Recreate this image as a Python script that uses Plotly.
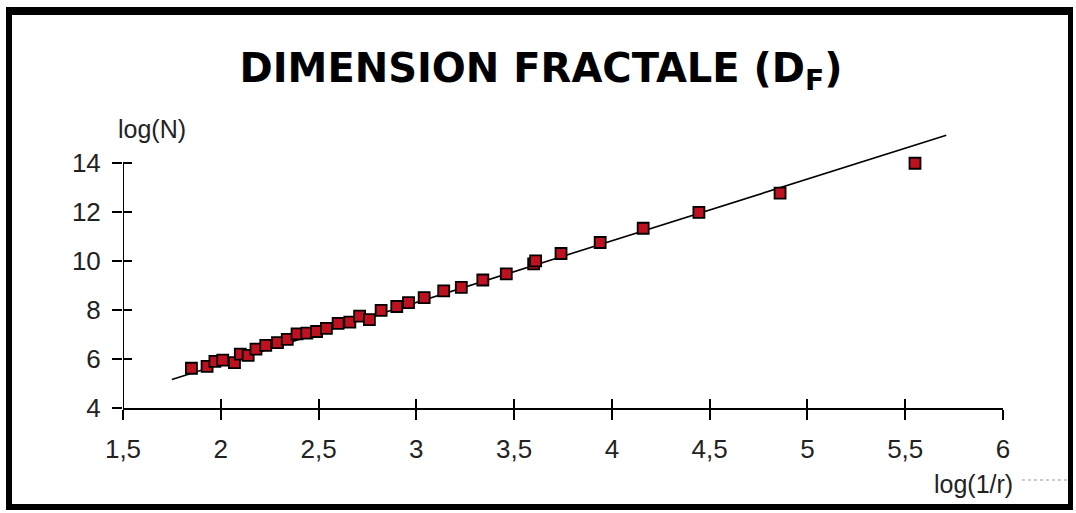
import plotly.graph_objects as go

# ---- data ----
log_inv_r = [1.85, 1.93, 1.97, 2.01, 2.07, 2.10, 2.14, 2.18, 2.23, 2.29, 2.34, 2.39,
             2.44, 2.49, 2.54, 2.60, 2.66, 2.71, 2.76, 2.82, 2.90, 2.96, 3.04, 3.14,
             3.23, 3.34, 3.46, 3.60, 3.61, 3.74, 3.94, 4.16, 4.445, 4.86, 5.55]
log_N = [5.62, 5.70, 5.90, 5.95, 5.85, 6.20, 6.15, 6.40, 6.55, 6.67, 6.80, 7.02,
         7.05, 7.12, 7.25, 7.45, 7.50, 7.75, 7.60, 7.98, 8.14, 8.30, 8.50, 8.78,
         8.92, 9.22, 9.47, 9.88, 10.00, 10.30, 10.75, 11.33, 11.98, 12.76, 13.98]

trend_x = [1.75, 5.71]
trend_y = [5.16, 15.12]

x_tickvals = [1.5, 2, 2.5, 3, 3.5, 4, 4.5, 5, 5.5, 6]
x_ticktext = ["1,5", "2", "2,5", "3", "3,5", "4", "4,5", "5", "5,5", "6"]
y_tickvals = [4, 6, 8, 10, 12, 14]
y_ticktext = ["4", "6", "8", "10", "12", "14"]

title_text = "DIMENSION FRACTALE (D<sub>F</sub>)"
y_label = "log(N)"
x_label = "log(1/r)"

# ---- layout geometry (pixels) ----
W, H = 1076, 513
ML, MR, MT, MB = 123, 73, 126, 105
PW, PH = W - ML - MR, H - MT - MB


def px(x):
    return (x - ML) / PW


def py(y):
    return (H - MB - y) / PH


fig = go.Figure()

fig.add_trace(go.Scatter(x=trend_x, y=trend_y, mode="lines",
                         line=dict(color="black", width=1.6),
                         hoverinfo="skip", showlegend=False))
fig.add_trace(go.Scatter(x=log_inv_r, y=log_N, mode="markers",
                         marker=dict(symbol="square", size=11, color="#be1220",
                                     line=dict(color="black", width=1.8)),
                         showlegend=False))
# empty trace to activate the overlay axes (inside half of crossing ticks)
fig.add_trace(go.Scatter(x=[], y=[], xaxis="x2", yaxis="y2", showlegend=False))

tickfont = dict(family="Liberation Sans, Arial, sans-serif", size=26, color="#222")

fig.update_layout(
    width=W, height=H,
    margin=dict(l=ML, r=MR, t=MT, b=MB, pad=0),
    paper_bgcolor="white", plot_bgcolor="white",
    title=dict(text=title_text, x=541 / W, xref="container", xanchor="center",
               y=1 - 68 / H, yref="container", yanchor="middle",
               font=dict(family="DejaVu Sans, sans-serif", size=40,
                         color="black", weight="bold")),
    xaxis=dict(range=[1.5, 6], tickvals=x_tickvals, ticktext=x_ticktext,
               ticks="outside", ticklen=10, tickwidth=2, tickcolor="black",
               showline=True, linewidth=2, linecolor="black",
               showgrid=False, zeroline=False, tickfont=tickfont,
               ticklabelstandoff=7),
    yaxis=dict(range=[4, 15.5], tickvals=y_tickvals, ticktext=y_ticktext,
               ticks="outside", ticklen=10, tickwidth=2, tickcolor="black",
               showline=False, showgrid=False, zeroline=False, tickfont=tickfont,
               ticklabelstandoff=6),
    xaxis2=dict(overlaying="x", matches="x", tickvals=x_tickvals,
                ticks="inside", ticklen=9, tickwidth=2, tickcolor="black",
                showticklabels=False, showline=False, showgrid=False,
                zeroline=False, side="bottom"),
    yaxis2=dict(overlaying="y", matches="y", tickvals=y_tickvals,
                ticks="inside", ticklen=9, tickwidth=2, tickcolor="black",
                showticklabels=False, showline=False, showgrid=False,
                zeroline=False, side="left"),
    showlegend=False,
)

# y axis line (ends at the last tick, as in the reference)
fig.add_shape(type="line", xref="x", yref="y", x0=x_tickvals[0], x1=x_tickvals[0],
              y0=y_tickvals[0], y1=y_tickvals[-1],
              line=dict(color="black", width=2), layer="above")

# axis titles
lab_font = dict(family="Liberation Sans, Arial, sans-serif", size=25, color="#222")
fig.add_annotation(text=y_label, xref="paper", yref="paper", x=px(152), y=py(129),
                   showarrow=False, font=lab_font, xanchor="center", yanchor="middle")
fig.add_annotation(text=x_label, xref="paper", yref="paper", x=px(973), y=py(484),
                   showarrow=False, font=lab_font, xanchor="center", yanchor="middle")
fig.add_shape(type="line", xref="paper", yref="paper", x0=px(1022), x1=px(1068),
              y0=py(480), y1=py(480), line=dict(color="#999", width=1, dash="dot"))

# outer frame
for (x0, x1, y0, y1) in [(6, 12, 7, 510), (6, 1073, 7, 15),
                         (1068, 1073, 7, 510), (6, 1073, 504, 510)]:
    fig.add_shape(type="rect", xref="paper", yref="paper",
                  x0=px(x0), x1=px(x1), y0=py(y1), y1=py(y0),
                  fillcolor="black", line=dict(width=0), layer="above")

fig.write_html("out.html")
